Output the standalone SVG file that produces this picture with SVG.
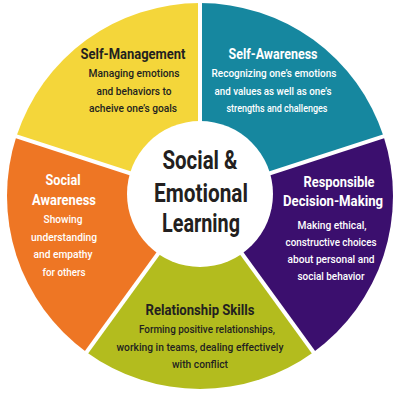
<svg xmlns="http://www.w3.org/2000/svg" width="400" height="414" viewBox="0 0 400 414">
<style>
text{font-family:Roboto,"Liberation Sans",sans-serif;text-anchor:middle}
.t{font-size:15px;font-weight:bold}
.b{font-size:11.5px;font-weight:500}
.c{font-size:25px;font-weight:bold;fill:#231f20}
.dk{fill:#231f20}
.wt{fill:#ffffff}
.sep{stroke:#ffffff;stroke-width:4}
</style>
<rect width="400" height="414" fill="#ffffff"/>
<g id="self-management">
<path d="M200,196 L16.44,136.36 A193,193 0 0 1 200,3 Z" fill="#f4d63a"/>
<text class="t dk" x="133" y="59" textLength="105" lengthAdjust="spacingAndGlyphs">Self-Management</text>
<text class="b dk" x="134" y="77" textLength="91" lengthAdjust="spacingAndGlyphs">Managing emotions</text>
<text class="b dk" x="134" y="95" textLength="75" lengthAdjust="spacingAndGlyphs">and behaviors to</text>
<text class="b dk" x="133" y="112" textLength="88" lengthAdjust="spacingAndGlyphs">acheive one’s goals</text>
</g>
<g id="self-awareness">
<path d="M200,196 L200,3 A193,193 0 0 1 383.56,136.36 Z" fill="#16879f"/>
<text class="t wt" x="273" y="59" textLength="89" lengthAdjust="spacingAndGlyphs">Self-Awareness</text>
<text class="b wt" x="274" y="77" textLength="125" lengthAdjust="spacingAndGlyphs">Recognizing one’s emotions</text>
<text class="b wt" x="273" y="95" textLength="117" lengthAdjust="spacingAndGlyphs">and values as well as one’s</text>
<text class="b wt" x="277" y="112" textLength="101" lengthAdjust="spacingAndGlyphs">strengths and challenges</text>
</g>
<g id="responsible-decision-making">
<path d="M200,196 L383.56,136.36 A193,193 0 0 1 313.44,352.14 Z" fill="#3b0f6e"/>
<text class="t wt" x="339" y="187" textLength="71" lengthAdjust="spacingAndGlyphs">Responsible</text>
<text class="t wt" x="333" y="206" textLength="100" lengthAdjust="spacingAndGlyphs">Decision-Making</text>
<text class="b wt" x="332" y="229" textLength="69" lengthAdjust="spacingAndGlyphs">Making ethical,</text>
<text class="b wt" x="331" y="246" textLength="91" lengthAdjust="spacingAndGlyphs">constructive choices</text>
<text class="b wt" x="331" y="263" textLength="87" lengthAdjust="spacingAndGlyphs">about personal and</text>
<text class="b wt" x="331" y="280" textLength="67" lengthAdjust="spacingAndGlyphs">social behavior</text>
</g>
<g id="relationship-skills">
<path d="M200,196 L313.44,352.14 A193,193 0 0 1 86.56,352.14 Z" fill="#b3bc1e"/>
<text class="t dk" x="200" y="315" textLength="109" lengthAdjust="spacingAndGlyphs">Relationship Skills</text>
<text class="b dk" x="207" y="333" textLength="136" lengthAdjust="spacingAndGlyphs">Forming positive relationships,</text>
<text class="b dk" x="200" y="351" textLength="167" lengthAdjust="spacingAndGlyphs">working in teams, dealing effectively</text>
<text class="b dk" x="200" y="368" textLength="56" lengthAdjust="spacingAndGlyphs">with conflict</text>
</g>
<g id="social-awareness">
<path d="M200,196 L86.56,352.14 A193,193 0 0 1 16.44,136.36 Z" fill="#ee7624"/>
<text class="t wt" x="63" y="185" textLength="35" lengthAdjust="spacingAndGlyphs">Social</text>
<text class="t wt" x="64" y="205" textLength="64" lengthAdjust="spacingAndGlyphs">Awareness</text>
<text class="b wt" x="63" y="223" textLength="39" lengthAdjust="spacingAndGlyphs">Showing</text>
<text class="b wt" x="64" y="241" textLength="66" lengthAdjust="spacingAndGlyphs">understanding</text>
<text class="b wt" x="63" y="258" textLength="59" lengthAdjust="spacingAndGlyphs">and empathy</text>
<text class="b wt" x="64" y="276" textLength="43" lengthAdjust="spacingAndGlyphs">for others</text>
</g>
<g id="separators">
<line class="sep" x1="200" y1="196" x2="200" y2="0"/>
<line class="sep" x1="200" y1="196" x2="393.5" y2="133.1"/>
<line class="sep" x1="200" y1="196" x2="319.5" y2="360.5"/>
<line class="sep" x1="200" y1="196" x2="80.5" y2="360.5"/>
<line class="sep" x1="200" y1="196" x2="6.5" y2="133.1"/>
</g>
<g id="center">
<circle cx="200" cy="194" r="73" fill="#ffffff"/>
<text class="c" x="200" y="169" textLength="75" lengthAdjust="spacingAndGlyphs">Social &amp;</text>
<text class="c" x="201" y="202" textLength="94" lengthAdjust="spacingAndGlyphs">Emotional</text>
<text class="c" x="201" y="232" textLength="78" lengthAdjust="spacingAndGlyphs">Learning</text>
</g>
</svg>
